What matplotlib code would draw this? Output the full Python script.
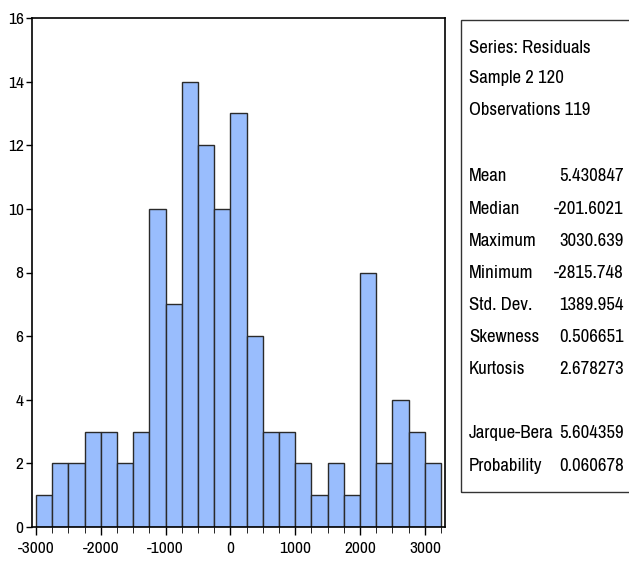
import matplotlib
matplotlib.use("Agg")
import matplotlib.pyplot as plt
from matplotlib.patches import Rectangle
from matplotlib import font_manager

# Data
bin_left = [-3000 + 250 * i for i in range(25)]
counts = [1, 2, 2, 3, 3, 2, 3, 10, 7, 14, 12, 10, 13, 6, 3, 3, 2, 1, 2, 1, 8, 2, 4, 3, 2]
bin_width = 250
x_ticks = [-3000, -2000, -1000, 0, 1000, 2000, 3000]
y_ticks = [0, 2, 4, 6, 8, 10, 12, 14, 16]
header_lines = ["Series: Residuals", "Sample 2 120", "Observations 119"]
stat_names = ["Mean", "Median", "Maximum", "Minimum", "Std. Dev.", "Skewness", "Kurtosis"]
stat_values = ["5.430847", "-201.6021", "3030.639", "-2815.748", "1389.954", "0.506651", "2.678273"]
test_names = ["Jarque-Bera", "Probability"]
test_values = ["5.604359", "0.060678"]

names = {f.name for f in font_manager.fontManager.ttflist}
fams = [f for f in ["Archivo Narrow", "Liberation Sans Narrow", "Liberation Sans"] if f in names]
plt.rcParams["font.family"] = fams + ["DejaVu Sans"]

W, H = 629, 566
fig = plt.figure(figsize=(W / 100, H / 100), dpi=100)

def fx(px):
    return px / W

def fy(py):
    return 1 - py / H

ax = fig.add_axes([fx(32), fy(527), fx(445) - fx(32), fy(18) - fy(527)])
ax.bar(bin_left, counts, width=bin_width, align="edge", color="#99bdfd",
       edgecolor="#2a2a2a", linewidth=1.0)
ax.set_xlim(-3060, 3310)
ax.set_ylim(0, 16)
ax.set_xticks(x_ticks)
ax.set_xticklabels([str(v) for v in x_ticks])
ax.set_xticks([-3000 + 250 * i for i in range(26)], minor=True)
ax.set_yticks(y_ticks)
ax.tick_params(axis="both", direction="out", labelsize=12.5, width=1, colors="black")
ax.tick_params(axis="x", which="major", length=6, pad=4)
ax.tick_params(axis="x", which="minor", length=4)
ax.tick_params(axis="y", length=4, pad=2)
for s in ax.spines.values():
    s.set_linewidth(1.2)

# Stats box
box = Rectangle((fx(461), fy(492)), fx(640) - fx(461), fy(20) - fy(492),
                transform=fig.transFigure, fill=False, edgecolor="#333333",
                linewidth=1.0, clip_on=False)
fig.add_artist(box)

fs = 13.5
lx = fx(469)
rx = fx(624)
header_y = [48, 78, 110]
for t, y in zip(header_lines, header_y):
    fig.text(lx, fy(y), t, fontsize=fs, va="center", ha="left")
stat_y = [176, 209, 241, 273, 305, 337, 369]
for n, v, y in zip(stat_names, stat_values, stat_y):
    fig.text(lx, fy(y), n, fontsize=fs, va="center", ha="left")
    fig.text(rx, fy(y), v, fontsize=fs, va="center", ha="right")
test_y = [433, 466]
for n, v, y in zip(test_names, test_values, test_y):
    fig.text(lx, fy(y), n, fontsize=fs, va="center", ha="left")
    fig.text(rx, fy(y), v, fontsize=fs, va="center", ha="right")

fig.savefig("out.png", dpi=100)
